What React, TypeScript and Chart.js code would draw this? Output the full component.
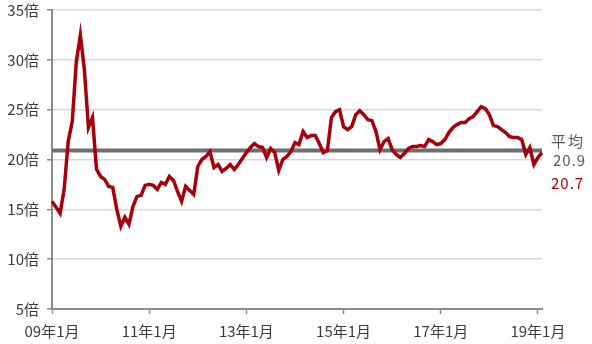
import React, { useEffect, useRef } from 'react';
import { Chart, registerables } from 'chart.js';

Chart.register(...registerables);

// Monthly categories: 09年1月 ... 19年2月
const START_YEAR = 9;
const MONTH_COUNT = 122;
const categories: string[] = [];
for (let i = 0; i < MONTH_COUNT; i++) {
  const y = START_YEAR + Math.floor(i / 12);
  const m = (i % 12) + 1;
  categories.push(`${String(y).padStart(2, '0')}年${m}月`);
}

// PER (倍), monthly
const per2009 = [15.8, 15.2, 14.6, 17.0, 21.8, 23.8, 29.8, 32.5, 29.0, 23.2, 24.2, 19.0];
const per2010 = [18.3, 18.0, 17.3, 17.2, 15.0, 13.3, 14.2, 13.5, 15.3, 16.3, 16.4, 17.4];
const per2011 = [17.5, 17.4, 17.0, 17.7, 17.5, 18.3, 17.9, 16.8, 15.8, 17.3, 16.9, 16.5];
const per2012 = [19.3, 20.0, 20.3, 20.8, 19.2, 19.5, 18.8, 19.1, 19.5, 19.0, 19.5, 20.1];
const per2013 = [20.7, 21.2, 21.6, 21.3, 21.2, 20.2, 21.1, 20.7, 18.9, 20.0, 20.3, 20.8];
const per2014 = [21.7, 21.5, 22.8, 22.2, 22.4, 22.4, 21.6, 20.7, 20.9, 24.2, 24.8, 25.0];
const per2015 = [23.3, 23.0, 23.3, 24.5, 24.9, 24.5, 24.0, 23.9, 22.8, 21.0, 21.8, 22.1];
const per2016 = [21.0, 20.5, 20.2, 20.6, 21.1, 21.3, 21.3, 21.4, 21.3, 22.0, 21.8, 21.5];
const per2017 = [21.6, 22.0, 22.7, 23.2, 23.5, 23.7, 23.7, 24.1, 24.3, 24.8, 25.3, 25.1];
const per2018 = [24.5, 23.4, 23.3, 23.0, 22.7, 22.3, 22.2, 22.2, 22.0, 20.5, 21.2, 19.5];
const per2019 = [20.2, 20.7];

const perValues = [
  ...per2009, ...per2010, ...per2011, ...per2012, ...per2013, ...per2014,
  ...per2015, ...per2016, ...per2017, ...per2018, ...per2019,
];

const AVERAGE = 20.9;
const LATEST = 20.7;
const AVG_LABEL = '平均';

const yTicks = [5, 10, 15, 20, 25, 30, 35];
const X_LABEL_EVERY = 24;

const RED = '#a5000c';
const GRAY_TEXT = '#5a5a5a';
const AXIS_GRAY = '#8c8c8c';
const FONT = '"Noto Sans CJK JP", "Noto Sans", sans-serif';

const avgPlugin = {
  id: 'avgLine',
  beforeDatasetsDraw(chart: any) {
    const { ctx, chartArea, scales } = chart;
    const y = scales.y.getPixelForValue(AVERAGE);
    ctx.save();
    ctx.strokeStyle = '#6e6e6e';
    ctx.lineWidth = 4;
    ctx.beginPath();
    ctx.moveTo(chartArea.left, y);
    ctx.lineTo(chartArea.right, y);
    ctx.stroke();
    ctx.restore();
  },
  afterDraw(chart: any) {
    const { ctx, chartArea, scales } = chart;
    const y = scales.y.getPixelForValue(AVERAGE);
    const x = chartArea.right + 9;
    ctx.save();
    ctx.font = `15px ${FONT}`;
    ctx.textBaseline = 'middle';
    ctx.textAlign = 'left';
    ctx.fillStyle = GRAY_TEXT;
    (ctx as any).letterSpacing = '2px';
    ctx.fillText(AVG_LABEL, x, y - 9);
    (ctx as any).letterSpacing = '1px';
    ctx.fillText(AVERAGE.toFixed(1), x + 2, y + 10);
    ctx.fillStyle = RED;
    ctx.fillText(LATEST.toFixed(1), x, y + 33);
    ctx.restore();
  },
};

export default function App() {
  const ref = useRef<HTMLCanvasElement>(null);
  useEffect(() => {
    if (!ref.current) return;
    const chart = new Chart(ref.current, {
      type: 'line',
      data: {
        labels: categories,
        datasets: [
          {
            data: perValues,
            borderColor: RED,
            borderWidth: 3.5,
            pointRadius: 0,
            tension: 0,
            fill: false,
          },
        ],
      },
      options: {
        animation: false,
        responsive: false,
        maintainAspectRatio: false,
        layout: { padding: { top: 10, right: 50, bottom: 0, left: 0 } },
        plugins: {
          legend: { display: false },
          tooltip: { enabled: false },
        },
        scales: {
          x: {
            type: 'category',
            offset: false,
            grid: {
              display: true,
              drawOnChartArea: false,
              drawTicks: true,
              tickLength: 5,
              tickColor: AXIS_GRAY,
              tickWidth: 1.5,
            },
            border: { display: true, color: AXIS_GRAY, width: 2 },
            ticks: {
              autoSkip: false,
              maxRotation: 0,
              minRotation: 0,
              padding: 8,
              color: '#3c3c3c',
              font: { family: FONT, size: 15 },
              callback: (_v: any, i: number) =>
                i % X_LABEL_EVERY === 0 ? categories[i] : null,
            },
            afterFit: (s: any) => {
              s.height = 35;
              s.paddingLeft = 0;
              s.paddingRight = 0;
            },
          },
          y: {
            min: yTicks[0],
            max: yTicks[yTicks.length - 1],
            afterBuildTicks: (s: any) => {
              s.ticks = yTicks.map((v) => ({ value: v }));
            },
            grid: {
              color: '#d9d9d9',
              lineWidth: 1.5,
              drawTicks: true,
              tickLength: 5,
              tickColor: AXIS_GRAY,
            },
            border: { display: true, color: AXIS_GRAY, width: 2 },
            ticks: {
              padding: 8,
              color: '#3c3c3c',
              font: { family: FONT, size: 15 },
              callback: (v: any) => `${v}倍`,
            },
            afterFit: (s: any) => {
              s.width = 52;
              s.paddingTop = 0;
              s.paddingBottom = 0;
            },
          },
        },
      },
      plugins: [avgPlugin],
    });
    return () => chart.destroy();
  }, []);
  return (
    <div style={{ position: 'fixed', left: 0, top: 0, width: 592, height: 344, background: '#fff' }}>
      <canvas ref={ref} width={592} height={344} style={{ width: 592, height: 344, display: 'block' }} />
    </div>
  );
}
